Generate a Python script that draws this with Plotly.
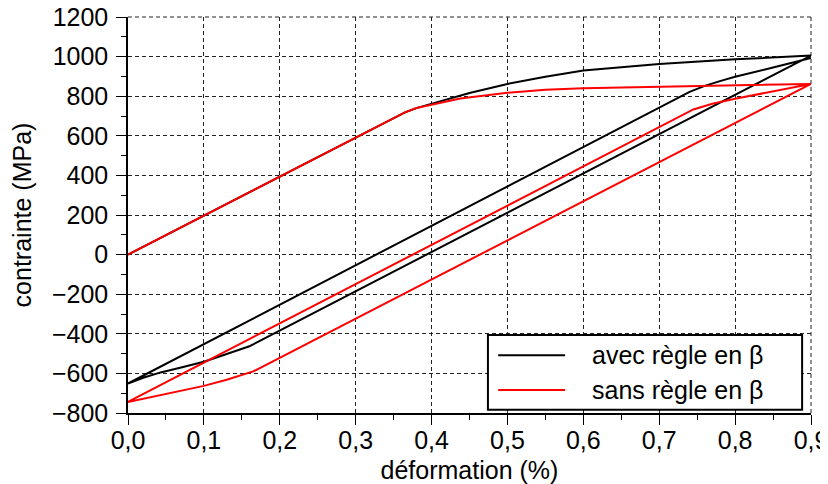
import plotly.graph_objects as go

# ---- data ----
# "avec règle en β": monotonic loading, unloading, reloading
avec_x = [0.0, 0.2, 0.35, 0.365, 0.38, 0.4, 0.45, 0.5, 0.55, 0.6, 0.7, 0.8, 0.9,
          0.16, 0.14, 0.12, 0.1, 0.07, 0.043, 0.02, 0.0,
          0.74, 0.76, 0.78, 0.8, 0.85, 0.9]
avec_y = [0, 394, 690, 718, 740, 762, 816, 862, 898, 930, 962, 986, 1005,
          -463, -488, -515, -541, -570, -595, -622, -651,
          822, 852, 876, 898, 945, 993]

# "sans règle en β"
sans_x = [0.0, 0.2, 0.35, 0.365, 0.38, 0.4, 0.438, 0.5, 0.55, 0.6, 0.7, 0.8, 0.9,
          0.165, 0.13, 0.1, 0.05, 0.0,
          0.745, 0.77, 0.8, 0.85, 0.9]
sans_y = [0, 394, 690, 718, 740, 757, 788, 817, 833, 840, 848, 855, 862,
          -590, -632, -663, -705, -744,
          733, 762, 787, 825, 862]

series_names = ["avec règle en β", "sans règle en β"]
series_colors = ["#000000", "#ff0000"]

x_tickvals = [0.0, 0.1, 0.2, 0.3, 0.4, 0.5, 0.6, 0.7, 0.8, 0.9]
x_ticktext = ["0,0", "0,1", "0,2", "0,3", "0,4", "0,5", "0,6", "0,7", "0,8", "0,9"]
y_tickvals = [-800, -600, -400, -200, 0, 200, 400, 600, 800, 1000, 1200]
y_ticktext = ["\u2212800", "\u2212600", "\u2212400", "\u2212200", "0", "200", "400",
              "600", "800", "1000", "1200"]

FONT = "Liberation Sans, Arial, sans-serif"
FS = 25
GRID = "#222222"
DASH = "4px,3px"

fig = go.Figure()
fig.add_trace(go.Scatter(x=avec_x, y=avec_y, mode="lines", name=series_names[0],
                         line=dict(color=series_colors[0], width=2), showlegend=False,
                         cliponaxis=False))
fig.add_trace(go.Scatter(x=sans_x, y=sans_y, mode="lines", name=series_names[1],
                         line=dict(color=series_colors[1], width=2), showlegend=False,
                         cliponaxis=False))

axis_common = dict(
    showgrid=True, gridcolor=GRID, gridwidth=1, griddash=DASH,
    zeroline=False, showline=True, linecolor="black", linewidth=1.5,
    ticks="outside", ticklen=10, tickwidth=1, tickcolor="black",
    tickfont=dict(family=FONT, size=FS, color="black"),
    mirror=False, automargin=False, ticklabeloverflow="allow",
)

fig.update_xaxes(
    range=[0, 0.9], tickmode="array", tickvals=x_tickvals, ticktext=x_ticktext,
    minor=dict(tick0=0, dtick=0.05, ticks="outside", ticklen=5, tickcolor="black", showgrid=False),
    title=dict(text="déformation (%)", font=dict(family=FONT, size=FS, color="black"), standoff=13),
    ticklabelstandoff=-6,
    **axis_common,
)
fig.update_yaxes(
    range=[-800, 1200], tickmode="array", tickvals=y_tickvals, ticktext=y_ticktext,
    minor=dict(tick0=0, dtick=100, ticks="outside", ticklen=5, tickcolor="black", showgrid=False),
    title=dict(text="contrainte (MPa)", font=dict(family=FONT, size=FS, color="black"), standoff=19),
    ticklabelstandoff=3,
    **axis_common,
)

shapes = [
    # dashed frame lines at top and right edges (grid at 1200 and 0.9)
    dict(type="line", xref="paper", yref="paper", x0=0, x1=1, y0=1, y1=1,
         line=dict(color=GRID, width=1, dash=DASH), layer="below"),
    dict(type="line", xref="paper", yref="paper", x0=1, x1=1, y0=0, y1=1,
         line=dict(color=GRID, width=1, dash=DASH), layer="below"),
    # custom legend box (matching the reference's long line samples)
    dict(type="rect", xref="paper", yref="paper", x0=0.527, x1=0.987, y0=0.008, y1=0.197,
         line=dict(color="black", width=2), fillcolor="white", layer="above"),
]
legend_rows_y = [0.146, 0.058]
annotations = []
for name, color, yy in zip(series_names, series_colors, legend_rows_y):
    shapes.append(dict(type="line", xref="paper", yref="paper", x0=0.542, x1=0.640, y0=yy, y1=yy,
                       line=dict(color=color, width=2), layer="above"))
    annotations.append(dict(xref="paper", yref="paper", x=0.677, y=yy, xanchor="left", yanchor="middle",
                            text=name, showarrow=False,
                            font=dict(family=FONT, size=FS, color="black")))

fig.update_layout(
    width=820, height=476,
    margin=dict(l=120, r=17, t=9, b=71),
    paper_bgcolor="white", plot_bgcolor="white",
    font=dict(family=FONT, size=FS, color="black"),
    shapes=shapes, annotations=annotations,
    showlegend=False,
)

fig.write_html("out.html")
